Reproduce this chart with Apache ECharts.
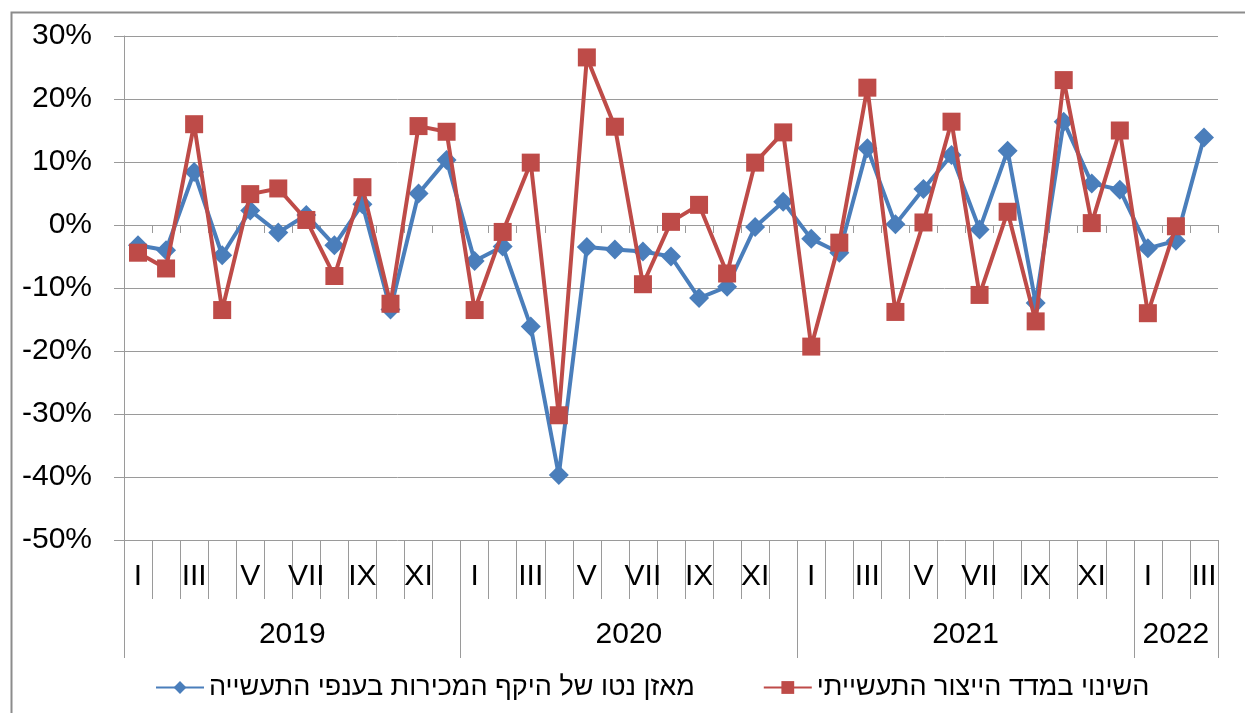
<!DOCTYPE html>
<html>
<head>
<meta charset="utf-8">
<script src="https://cdn.jsdelivr.net/npm/echarts@6/dist/echarts.min.js"></script>
<style>html,body{margin:0;padding:0;background:#fff}#c{width:1245px;height:713px}</style>
</head>
<body>
<div id="c"></div>
<script>
// ---- data ----
const monthLabels = ['I','II','III','IV','V','VI','VII','VIII','IX','X','XI','XII',
  'I','II','III','IV','V','VI','VII','VIII','IX','X','XI','XII',
  'I','II','III','IV','V','VI','VII','VIII','IX','X','XI','XII',
  'I','II','III'];
const years = ['2019','2020','2021','2022'];
const monthsPerYear = [12, 12, 12, 3];
const seriesNames = ['מאזן נטו של היקף המכירות בענפי התעשייה', 'השינוי במדד הייצור התעשייתי'];
const salesBalance = [-3.2,-4.0,8.4,-4.8,2.3,-1.2,1.6,-3.2,3.3,-13.4,5.0,10.3,
  -5.7,-3.4,-16.1,-39.7,-3.5,-3.9,-4.2,-5.0,-11.6,-9.8,-0.3,3.7,
  -2.2,-4.4,12.2,0.1,5.7,11.1,-0.7,11.8,-12.4,16.4,6.6,5.6,
  -3.7,-2.5,13.9];
const productionChange = [-4.4,-6.9,16.0,-13.5,4.9,5.8,0.8,-8.1,6.0,-12.5,15.7,14.8,
  -13.5,-1.1,9.9,-30.2,26.6,15.6,-9.4,0.5,3.2,-7.7,9.9,14.7,
  -19.3,-2.8,21.8,-13.8,0.4,16.4,-11.1,2.1,-15.3,23.0,0.3,15.0,
  -14.0,-0.2];
const yTicks = {min: -50, max: 30, step: 10};

// ---- year axis (half-month grid) ----
const yearCats = [];
const yearBounds = new Set();
const yearCenters = {};
let k = 0;
yearBounds.add(0);
years.forEach((y, i) => {
  const halfCount = monthsPerYear[i] * 2;
  yearCenters[k + halfCount / 2] = y;
  k += halfCount;
  yearBounds.add(k);
});
for (let i = 0; i <= k; i++) yearCats.push(yearCenters[i] || '');

const FONT = 'Arial, "Liberation Sans", "DejaVu Sans", sans-serif';
const GRID = '#9a9a9a';
const chart = echarts.init(document.getElementById('c'), null, {renderer: 'canvas'});
chart.setOption({
  animation: false,
  backgroundColor: '#fff',
  graphic: [{
    type: 'rect', left: 9, top: 10, shape: {x: 0, y: 0, width: 1260, height: 720},
    style: {fill: 'none', stroke: '#8c8c8c', lineWidth: 2}, silent: true, z: -1
  }],
  grid: {left: 124, right: 27, top: 36, bottom: 173, containLabel: false},
  legend: {
    data: seriesNames,
    left: 150, top: 669,
    itemWidth: 48, itemHeight: 16, itemGap: 68,
    textStyle: {fontFamily: FONT, fontSize: 27, color: '#000'}
  },
  xAxis: [
    {
      type: 'category', data: monthLabels, boundaryGap: true,
      axisLine: {onZero: true, lineStyle: {color: GRID, width: 1}},
      axisTick: {show: true, interval: 0, length: 8, lineStyle: {color: GRID}},
      axisLabel: {show: false}, splitLine: {show: false}
    },
    {
      type: 'category', data: monthLabels, boundaryGap: true, position: 'bottom',
      axisLine: {show: false, onZero: false},
      axisTick: {show: true, interval: 0, length: 59, lineStyle: {color: GRID}},
      axisLabel: {show: true, interval: 1, margin: 22, fontFamily: FONT, fontSize: 30, color: '#000'},
      splitLine: {show: false}
    },
    {
      type: 'category', data: yearCats, boundaryGap: false, position: 'bottom',
      axisLine: {show: false, onZero: false},
      axisTick: {show: true, length: 118, lineStyle: {color: GRID},
        interval: (idx) => yearBounds.has(idx)},
      axisLabel: {show: true, margin: 80, fontFamily: FONT, fontSize: 30, color: '#000',
        interval: (idx, v) => v !== ''},
      splitLine: {show: false}
    }
  ],
  yAxis: {
    type: 'value', min: yTicks.min, max: yTicks.max, interval: yTicks.step,
    axisLine: {show: true, lineStyle: {color: GRID}},
    axisTick: {show: true, length: 10, lineStyle: {color: GRID}},
    axisLabel: {formatter: '{value}%', margin: 32, fontFamily: FONT, fontSize: 30, color: '#000'},
    splitLine: {show: true, lineStyle: {color: GRID, width: 1}}
  },
  series: [
    {
      name: seriesNames[0], type: 'line', data: salesBalance, xAxisIndex: 0,
      symbol: 'diamond', symbolSize: 20, showSymbol: true, showAllSymbol: true,
      lineStyle: {color: '#4a7ebb', width: 4},
      itemStyle: {color: '#4a7ebb'}, z: 2
    },
    {
      name: seriesNames[1], type: 'line', data: productionChange, xAxisIndex: 0,
      symbol: 'rect', symbolSize: 18, showSymbol: true, showAllSymbol: true,
      lineStyle: {color: '#be4b48', width: 4},
      itemStyle: {color: '#be4b48'}, z: 3
    }
  ]
});
</script>
</body>
</html>
